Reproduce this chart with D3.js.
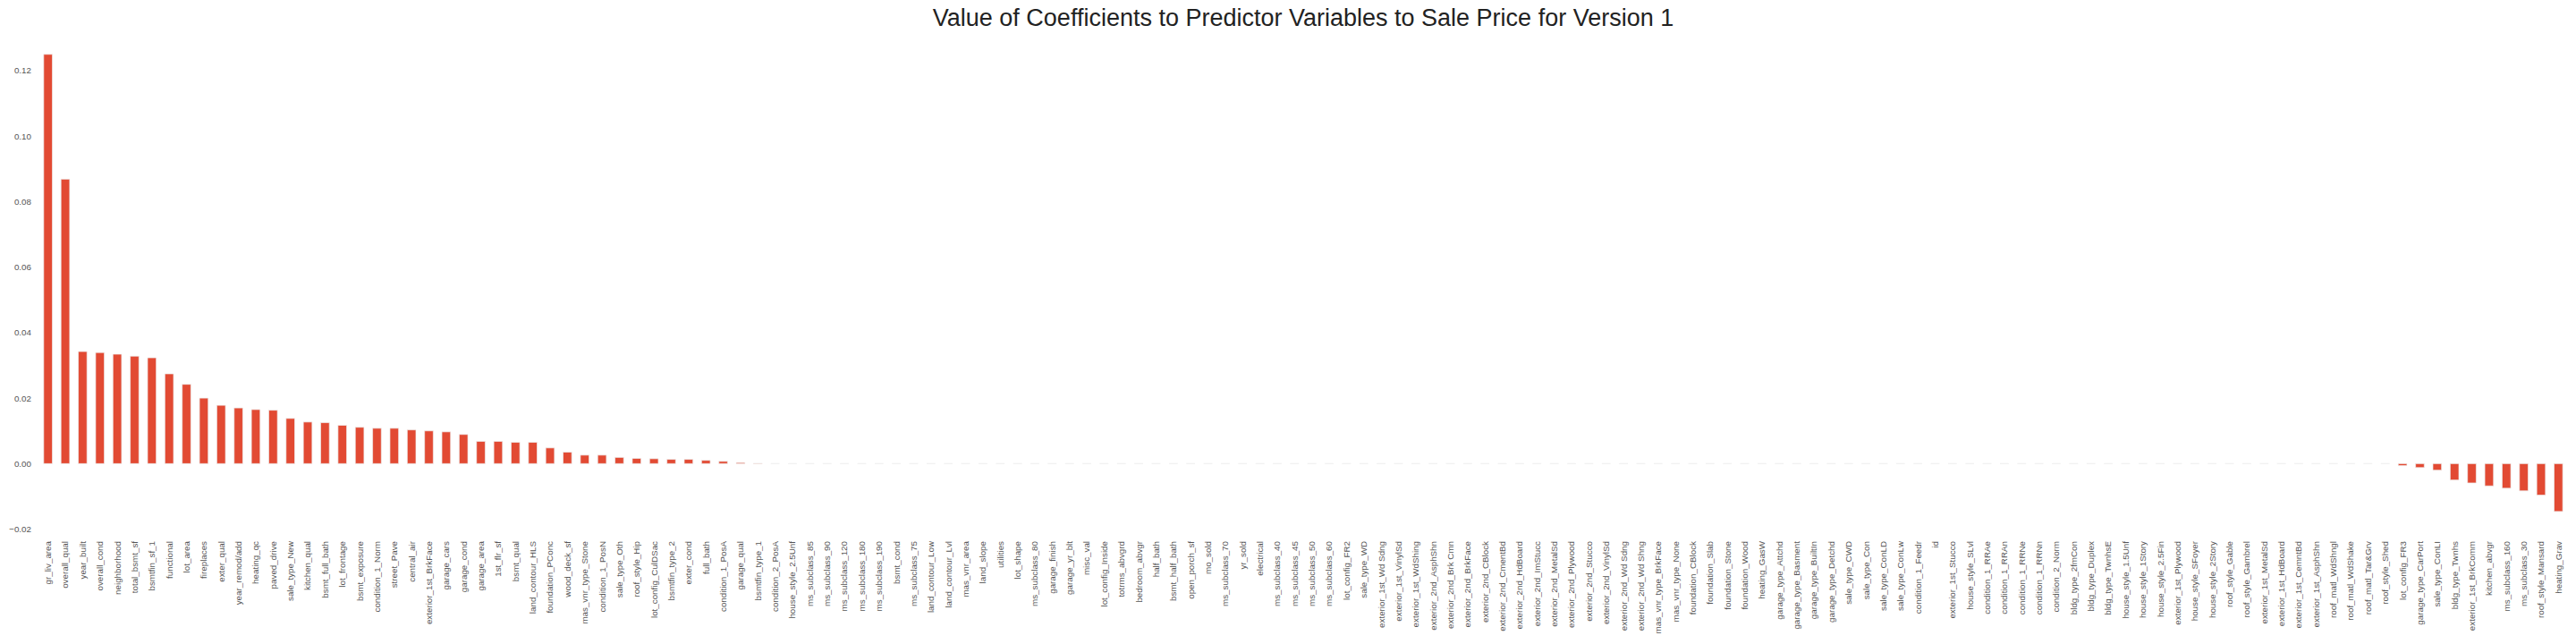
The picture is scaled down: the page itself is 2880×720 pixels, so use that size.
<!DOCTYPE html>
<html>
<head>
<meta charset="utf-8">
<script src="https://cdn.jsdelivr.net/npm/d3@7"></script>
<style>
  html, body { margin: 0; padding: 0; background: #ffffff; }
  svg { display: block; }
  text { font-family: "Liberation Sans", Arial, Helvetica, sans-serif; }
</style>
</head>
<body>
<svg id="chart" width="2880" height="720"></svg>
<script>
const titleText = "Value of Coefficients to Predictor Variables to Sale Price for Version 1";

const features = [
  "gr_liv_area","overall_qual","year_built","overall_cond","neighborhood","total_bsmt_sf","bsmtfin_sf_1","functional","lot_area","fireplaces",
  "exter_qual","year_remod/add","heating_qc","paved_drive","sale_type_New","kitchen_qual","bsmt_full_bath","lot_frontage","bsmt_exposure","condition_1_Norm",
  "street_Pave","central_air","exterior_1st_BrkFace","garage_cars","garage_cond","garage_area","1st_flr_sf","bsmt_qual","land_contour_HLS","foundation_PConc",
  "wood_deck_sf","mas_vnr_type_Stone","condition_1_PosN","sale_type_Oth","roof_style_Hip","lot_config_CulDSac","bsmtfin_type_2","exter_cond","full_bath","condition_1_PosA",
  "garage_qual","bsmtfin_type_1","condition_2_PosA","house_style_2.5Unf","ms_subclass_85","ms_subclass_90","ms_subclass_120","ms_subclass_180","ms_subclass_190","bsmt_cond",
  "ms_subclass_75","land_contour_Low","land_contour_Lvl","mas_vnr_area","land_slope","utilities","lot_shape","ms_subclass_80","garage_finish","garage_yr_blt",
  "misc_val","lot_config_Inside","totrms_abvgrd","bedroom_abvgr","half_bath","bsmt_half_bath","open_porch_sf","mo_sold","ms_subclass_70","yr_sold",
  "electrical","ms_subclass_40","ms_subclass_45","ms_subclass_50","ms_subclass_60","lot_config_FR2","sale_type_WD","exterior_1st_Wd Sdng","exterior_1st_VinylSd","exterior_1st_WdShing",
  "exterior_2nd_AsphShn","exterior_2nd_Brk Cmn","exterior_2nd_BrkFace","exterior_2nd_CBlock","exterior_2nd_CmentBd","exterior_2nd_HdBoard","exterior_2nd_ImStucc","exterior_2nd_MetalSd","exterior_2nd_Plywood","exterior_2nd_Stucco",
  "exterior_2nd_VinylSd","exterior_2nd_Wd Sdng","exterior_2nd_Wd Shng","mas_vnr_type_BrkFace","mas_vnr_type_None","foundation_CBlock","foundation_Slab","foundation_Stone","foundation_Wood","heating_GasW",
  "garage_type_Attchd","garage_type_Basment","garage_type_BuiltIn","garage_type_Detchd","sale_type_CWD","sale_type_Con","sale_type_ConLD","sale_type_ConLw","condition_1_Feedr","id",
  "exterior_1st_Stucco","house_style_SLvl","condition_1_RRAe","condition_1_RRAn","condition_1_RRNe","condition_1_RRNn","condition_2_Norm","bldg_type_2fmCon","bldg_type_Duplex","bldg_type_TwnhsE",
  "house_style_1.5Unf","house_style_1Story","house_style_2.5Fin","exterior_1st_Plywood","house_style_SFoyer","house_style_2Story","roof_style_Gable","roof_style_Gambrel","exterior_1st_MetalSd","exterior_1st_HdBoard",
  "exterior_1st_CemntBd","exterior_1st_AsphShn","roof_matl_WdShngl","roof_matl_WdShake","roof_matl_Tar&Grv","roof_style_Shed","lot_config_FR3","garage_type_CarPort","sale_type_ConLI","bldg_type_Twnhs",
  "exterior_1st_BrkComm","kitchen_abvgr","ms_subclass_160","ms_subclass_30","roof_style_Mansard","heating_Grav"
];

const coefficients = [
  0.1249, 0.0868, 0.0342, 0.0339, 0.0334, 0.0328, 0.0323, 0.0274, 0.0242, 0.0200,
  0.0178, 0.0170, 0.0165, 0.0163, 0.0138, 0.0127, 0.0125, 0.0117, 0.0111, 0.0108,
  0.0108, 0.0103, 0.0100, 0.0097, 0.0089, 0.0068, 0.0068, 0.0065, 0.0065, 0.0048,
  0.0035, 0.0026, 0.0026, 0.0019, 0.0016, 0.0015, 0.0013, 0.0013, 0.0010, 0.0007,
  0.0003, 0.0001, 0, 0, 0, 0, 0, 0, 0, 0,
  0, 0, 0, 0, 0, 0, 0, 0, 0, 0,
  0, 0, 0, 0, 0, 0, 0, 0, 0, 0,
  0, 0, 0, 0, 0, 0, 0, 0, 0, 0,
  0, 0, 0, 0, 0, 0, 0, 0, 0, 0,
  0, 0, 0, 0, 0, 0, 0, 0, 0, 0,
  0, 0, 0, 0, 0, 0, 0, 0, 0, 0,
  0, 0, 0, 0, 0, 0, 0, 0, 0, 0,
  0, 0, 0, 0, 0, 0, 0, 0, 0, 0,
  0, 0, 0, 0, 0, 0, -0.0006, -0.0012, -0.0020, -0.0050,
  -0.0059, -0.0068, -0.0075, -0.0083, -0.0096, -0.0146
];

const yTicks = [-0.02, 0.00, 0.02, 0.04, 0.06, 0.08, 0.10, 0.12];

(function () {
  const data = features.map((f, i) => ({ name: f, value: coefficients[i] }));

  const W = 2880, H = 720;
  const mLeft = 44, mRight = 2870, mTop = 35.2, mBottom = 597.4;

  const svg = d3.select("#chart");
  svg.append("rect").attr("width", W).attr("height", H).attr("fill", "#ffffff");

  const x = d3.scaleBand()
    .domain(features)
    .range([mLeft, mRight])
    .paddingInner(0.5)
    .paddingOuter(0.25);

  const yMin = d3.min(coefficients), yMax = d3.max(coefficients);
  const pad = (yMax - yMin) * 0.05;
  const y = d3.scaleLinear()
    .domain([yMin - pad, yMax + pad])
    .range([mBottom, mTop]);

  // bars (paths so zero-height bars still show their edge)
  svg.append("g")
    .selectAll("path")
    .data(data)
    .join("path")
    .attr("d", d => {
      const x0 = x(d.name), w = x.bandwidth();
      const y0 = y(0), y1 = y(d.value);
      return `M${x0},${y0}H${x0 + w}V${y1}H${x0}Z`;
    })
    .attr("fill", "#E24A33")
    .attr("stroke", "#EEEEEE")
    .attr("stroke-width", 0.7);

  // y axis
  const yAxis = d3.axisLeft(y)
    .tickValues(yTicks)
    .tickFormat(d3.format(".2f"))
    .tickSize(0)
    .tickPadding(9);

  const gy = svg.append("g")
    .attr("transform", `translate(${mLeft},0)`)
    .call(yAxis);
  gy.select(".domain").remove();
  gy.selectAll("text")
    .attr("fill", "#555555")
    .style("font-size", "9.8px")
    .style("font-family", "'Liberation Sans', Arial, sans-serif");

  // x axis
  const xAxis = d3.axisBottom(x).tickSize(0).tickPadding(0);
  const gx = svg.append("g")
    .attr("transform", `translate(0,${mBottom})`)
    .call(xAxis);
  gx.select(".domain").remove();
  gx.selectAll("text")
    .attr("transform", "rotate(-90)")
    .attr("x", -7.6)
    .attr("y", 0)
    .attr("dy", "0.35em")
    .attr("text-anchor", "end")
    .attr("fill", "#555555")
    .style("font-size", "9.8px")
    .style("font-family", "'Liberation Sans', Arial, sans-serif");

  // title
  svg.append("text")
    .attr("x", (mLeft + mRight) / 2)
    .attr("y", 29)
    .attr("text-anchor", "middle")
    .attr("fill", "#222222")
    .style("font-size", "27px")
    .text(titleText);
})();
</script>
</body>
</html>
